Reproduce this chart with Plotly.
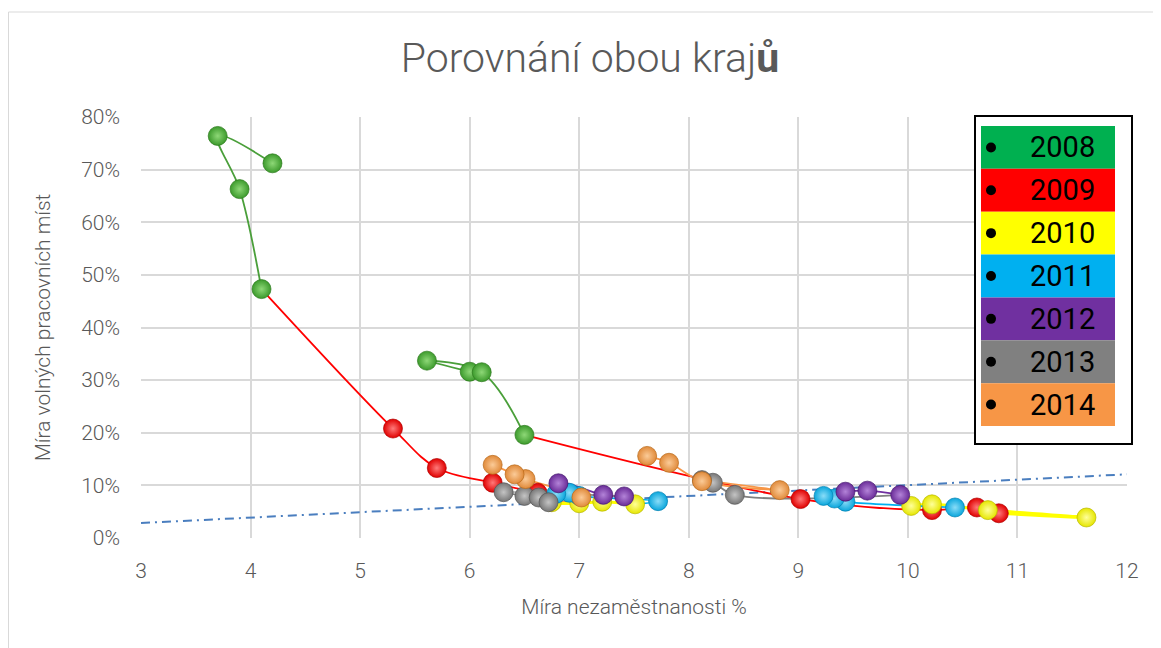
import plotly.graph_objects as go

# ---------------- data ----------------
years = [2008, 2009, 2010, 2011, 2012, 2013, 2014]

# Region 1 (quarterly points, grouped by year): unemployment (%) and vacancy rate
r1_unemp = {
    2008: [4.2, 3.7, 3.9, 4.1],
    2009: [5.3, 5.7, 6.21, 6.62],
    2010: [6.75, 7.0, 7.21, 7.51],
    2011: [7.72, 7.0, 6.91, 6.79],
    2012: [6.81, 7.22, 7.41],
    2013: [6.31, 6.50, 6.63, 6.72],
    2014: [7.02, 6.51, 6.41, 6.21],
}
r1_vac = {
    2008: [0.712, 0.764, 0.663, 0.473],
    2009: [0.208, 0.133, 0.105, 0.086],
    2010: [0.068, 0.066, 0.069, 0.064],
    2011: [0.070, 0.080, 0.086, 0.084],
    2012: [0.104, 0.082, 0.079],
    2013: [0.087, 0.080, 0.077, 0.068],
    2014: [0.077, 0.112, 0.121, 0.139],
}

# Region 2
r2_unemp = {
    2008: [6.0, 5.61, 6.11, 6.5],
    2009: [9.02, 10.22, 10.63, 10.83],
    2010: [11.63, 10.73, 10.22, 10.03],
    2011: [10.43, 9.43, 9.33, 9.23],
    2012: [9.43, 9.63, 9.93],
    2013: [8.42, 8.22, 8.12],
    2014: [8.83, 8.12, 7.82, 7.62],
}
r2_vac = {
    2008: [0.316, 0.337, 0.315, 0.196],
    2009: [0.074, 0.053, 0.058, 0.047],
    2010: [0.039, 0.053, 0.064, 0.061],
    2011: [0.058, 0.069, 0.075, 0.080],
    2012: [0.088, 0.090, 0.082],
    2013: [0.082, 0.105, 0.110],
    2014: [0.091, 0.108, 0.143, 0.156],
}

# linear trendline (as shown in chart)
trend_x = [3, 12]
trend_y = [0.0285, 0.121]

x_ticks = [3, 4, 5, 6, 7, 8, 9, 10, 11, 12]

# ---------------- styles ----------------
legend_fill = {2008: "#00B050", 2009: "#FF0000", 2010: "#FFFF00", 2011: "#00B0F0",
               2012: "#7030A0", 2013: "#808080", 2014: "#F79646"}
line_col = {2008: "#4A9F3A", 2009: "#FF0000", 2010: "#FFFF00", 2011: "#00B0F0",
            2012: "#7030A0", 2013: "#808080", 2014: "#F79646"}
sphere_light = {2008: "#8ED877", 2009: "#FF7A7A", 2010: "#FFFF9A", 2011: "#8ADDF8",
                2012: "#B383D8", 2013: "#C4C4C4", 2014: "#FBCB98"}
sphere_base = {2008: "#3C9A2C", 2009: "#E00000", 2010: "#E6E600", 2011: "#0AA6DC",
               2012: "#6A2C98", 2013: "#777777", 2014: "#E08A3A"}
sphere_edge = {2008: "#2C7A1C", 2009: "#B00000", 2010: "#B8B800", 2011: "#0080B0",
               2012: "#45186E", 2013: "#555555", 2014: "#B86818"}

FONT = "Roboto, sans-serif"
GREY = "#595959"

fig = go.Figure()

# trendline
fig.add_trace(go.Scatter(x=trend_x, y=trend_y, mode="lines",
                         line=dict(color="#4A7EBF", width=2, dash="9px,5px,2px,5px"),
                         hoverinfo="skip", showlegend=False))

regions = [(r1_unemp, r1_vac), (r2_unemp, r2_vac)]

# connecting lines (segment leading to a point takes the point's colour)
for ux, vy in regions:
    prev = None
    for yr in years:
        xs = list(ux[yr])
        ys = list(vy[yr])
        if prev is not None:
            xs = [prev[0]] + xs
            ys = [prev[1]] + ys
        fig.add_trace(go.Scatter(x=xs, y=ys, mode="lines",
                                 line=dict(color=line_col[yr], width=3 if yr == 2010 else 1.8,
                                           shape="spline", smoothing=1.0),
                                 hoverinfo="skip", showlegend=False))
        prev = (ux[yr][-1], vy[yr][-1])

# spheres
for ux, vy in regions:
    xs, ys, cb, cl, ce = [], [], [], [], []
    for yr in years:
        xs += ux[yr]
        ys += vy[yr]
        cb += [sphere_base[yr]] * len(ux[yr])
        cl += [sphere_light[yr]] * len(ux[yr])
        ce += [sphere_edge[yr]] * len(ux[yr])
    fig.add_trace(go.Scatter(x=xs, y=ys, mode="markers",
                             marker=dict(size=19, color=cb,
                                         gradient=dict(type="radial", color=cl),
                                         line=dict(width=0.7, color=ce)),
                             showlegend=False))

# ---------------- layout ----------------
OFF = 8  # page body margin
L, R, T, B = 141 - OFF, 1127 - OFF, 117 - OFF, 538 - OFF
W, H = 1161 - OFF, 648 - OFF


def px(xs):
    return (xs - OFF - L) / (R - L)


def py(ys):
    return (B - (ys - OFF)) / (B - T)


shapes = []
annotations = []

# outer chart border
shapes.append(dict(type="rect", xref="paper", yref="paper",
                   x0=px(8.5), x1=px(1300), y0=py(800), y1=py(12),
                   line=dict(color="#D9D9D9", width=1), layer="below"))

# legend box
shapes.append(dict(type="rect", xref="paper", yref="paper",
                   x0=px(975), x1=px(1132), y0=py(444), y1=py(116),
                   line=dict(color="black", width=2), fillcolor="white"))
cell_top = 126
cell_h = (426 - 126) / 7
for i, yr in enumerate(years):
    y0 = cell_top + i * cell_h
    shapes.append(dict(type="rect", xref="paper", yref="paper",
                       x0=px(981), x1=px(1115), y0=py(y0 + cell_h), y1=py(y0),
                       line=dict(width=0), fillcolor=legend_fill[yr]))
    cy = y0 + cell_h / 2
    shapes.append(dict(type="circle", xref="paper", yref="paper",
                       x0=px(986), x1=px(996), y0=py(cy + 5), y1=py(cy - 5),
                       line=dict(width=0), fillcolor="black"))
    annotations.append(dict(xref="paper", yref="paper", x=px(1062), y=py(cy),
                            text=str(yr), showarrow=False, xanchor="center", yanchor="middle",
                            font=dict(family=FONT, size=29, color="black")))

fig.update_layout(
    width=W, height=H, autosize=False,
    margin=dict(l=L, r=W - R, t=T, b=H - B),
    paper_bgcolor="white", plot_bgcolor="white",
    showlegend=False,
    font=dict(family=FONT, color=GREY),
    title=dict(text="Porovnání obou kraj<b>ů</b>", x=(590 - OFF) / W, xref="container",
               y=1 - (58 - OFF) / H, yref="container", xanchor="center", yanchor="middle",
               font=dict(family=FONT, size=41, color=GREY, weight=300)),
    xaxis=dict(range=[3, 12], tickvals=x_ticks, showgrid=True, gridcolor="#D9D9D9", gridwidth=1.5,
               zeroline=False, showline=False, ticks="", ticklabelstandoff=18,
               tickfont=dict(family=FONT, size=21, color=GREY, weight=300),
               title=dict(text="Míra nezaměstnanosti %", standoff=17,
                          font=dict(family=FONT, size=21, color=GREY, weight=300))),
    yaxis=dict(range=[0, 0.8], dtick=0.1, tickformat=".0%", showgrid=True, gridcolor="#D9D9D9",
               gridwidth=1.5, zeroline=False, showline=False, ticks="", ticklabelstandoff=20,
               tickfont=dict(family=FONT, size=21, color=GREY, weight=300),
               title=dict(text="Míra volných pracovních míst", standoff=24,
                          font=dict(family=FONT, size=21, color=GREY, weight=300))),
    shapes=shapes,
    annotations=annotations,
)

fig.write_html("out.html")
